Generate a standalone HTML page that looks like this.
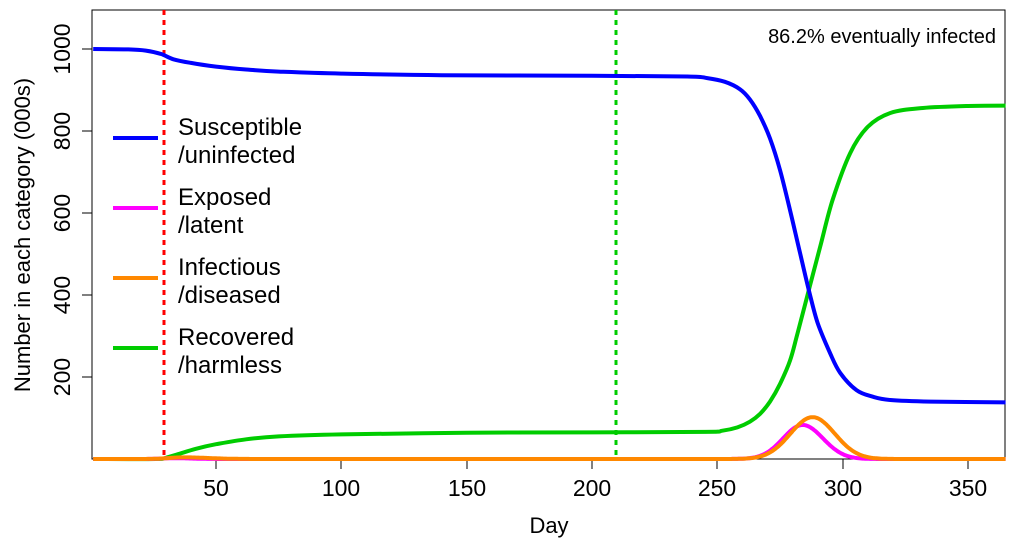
<!DOCTYPE html>
<html><head><meta charset="utf-8"><style>
body{margin:0;background:#fff}
svg{display:block;font-family:"Liberation Sans",sans-serif}
</style></head><body>
<svg id="s" width="1027" height="548" viewBox="0 0 1027 548">
<rect x="92" y="10" width="913" height="449" fill="none" stroke="#000" stroke-width="1"/>
<g stroke="#000">
<line x1="82" x2="92" y1="377" y2="377"/><line x1="82" x2="92" y1="295" y2="295"/>
<line x1="82" x2="92" y1="213" y2="213"/><line x1="82" x2="92" y1="131" y2="131"/>
<line x1="82" x2="92" y1="49" y2="49"/>
<line y1="459" y2="469" x1="216" x2="216"/><line y1="459" y2="469" x1="341" x2="341"/>
<line y1="459" y2="469" x1="467" x2="467"/><line y1="459" y2="469" x1="592" x2="592"/>
<line y1="459" y2="469" x1="717" x2="717"/><line y1="459" y2="469" x1="843" x2="843"/>
<line y1="459" y2="469" x1="968" x2="968"/>
</g>
<g font-size="23" text-anchor="middle">
<text x="216" y="496">50</text><text x="341" y="496">100</text><text x="467" y="496">150</text>
<text x="592" y="496">200</text><text x="717" y="496">250</text><text x="843" y="496">300</text>
<text x="968" y="496">350</text>
<text x="549" y="533" font-size="22">Day</text>
<g transform="translate(70,0)">
<text transform="translate(0,377) rotate(-90)">200</text>
<text transform="translate(0,295) rotate(-90)">400</text>
<text transform="translate(0,213) rotate(-90)">600</text>
<text transform="translate(0,131) rotate(-90)">800</text>
<text transform="translate(0,49) rotate(-90)">1000</text>
</g>
<text transform="translate(30,235) rotate(-90)" font-size="22">Number in each category (000s)</text>
</g>
<line x1="164" x2="164" y1="10" y2="459" stroke="#f00" stroke-width="3" stroke-dasharray="5,5"/>
<line x1="616" x2="616" y1="10" y2="459" stroke="#0c0" stroke-width="3" stroke-dasharray="5,5"/>
<text x="996" y="43" font-size="20" text-anchor="end">86.2% eventually infected</text>
<g stroke-width="4">
<line x1="113" x2="158" y1="138" y2="138" stroke="#00f"/>
<line x1="113" x2="158" y1="208" y2="208" stroke="#f0f"/>
<line x1="113" x2="158" y1="278" y2="278" stroke="#f80"/>
<line x1="113" x2="158" y1="348" y2="348" stroke="#0c0"/>
</g>
<g font-size="24">
<text x="178" y="135">Susceptible</text><text x="178" y="163">/uninfected</text>
<text x="178" y="205">Exposed</text><text x="178" y="233">/latent</text>
<text x="178" y="275">Infectious</text><text x="178" y="303">/diseased</text>
<text x="178" y="345">Recovered</text><text x="178" y="373">/harmless</text>
</g>
<g id="curves" fill="none" stroke-width="4" stroke-linejoin="round"></g>
</svg>
<script>
function X(d){return 216+(d-50)*2.5067}
function Y(v){return 459-v*0.41}
function cr(pts,color){var P=pts.map(function(p){return [X(p[0]),Y(p[1])]});
var s="M"+P[0][0]+","+P[0][1];
for(var i=0;i<P.length-1;i++){var p0=P[i-1]||P[i],p1=P[i],p2=P[i+1],p3=P[i+2]||p2;
var c1x=p1[0]+(p2[0]-p0[0])/6,c1y=p1[1]+(p2[1]-p0[1])/6,c2x=p2[0]-(p3[0]-p1[0])/6,c2y=p2[1]-(p3[1]-p1[1])/6;
s+="C"+c1x.toFixed(1)+","+c1y.toFixed(1)+" "+c2x.toFixed(1)+","+c2y.toFixed(1)+" "+p2[0].toFixed(1)+","+p2[1].toFixed(1)}
var p=document.createElementNS("http://www.w3.org/2000/svg","path");p.setAttribute("d",s);p.setAttribute("stroke",color);document.getElementById("curves").appendChild(p)}
function fn(f,color){var s="";for(var d=1;d<=365;d+=0.5){s+=(s?"L":"M")+X(d).toFixed(1)+","+Y(f(d)).toFixed(1)}
var p=document.createElementNS("http://www.w3.org/2000/svg","path");p.setAttribute("d",s);p.setAttribute("stroke",color);document.getElementById("curves").appendChild(p)}
var S=[[1,1000],[15,999],[22,996],[28,988],[33,975],[40,966],[50,957],[62,950],[75,945],[100,940],[140,936],[200,935],[238,933],[246,929],[253,920],[259,902],[263,877],[267,837],[271,782],[275,705],[279,607],[283,502],[286.5,412],[290,332],[295,258],[299,210],[305.5,168],[312,152],[319,144],[335,140],[365,138]];
var R=[[1,0],[26,0],[30,3],[35,12],[42,25],[50,36],[62,48],[75,55],[100,60],[150,64],[200,65],[245,66],[252,69],[258,77],[263,91],[267,110],[271,140],[275,183],[279,240],[282,307],[286.5,412],[291,517],[296,632],[303,746],[310,810],[319,844],[332,856],[350,861],[365,862]];
cr(R,"#0c0");
cr(S,"#00f");
function g(d,c,sl,sr){var s=d<c?sl:sr;return Math.exp(-Math.pow((d-c)/s,2))}
fn(function(d){return 83*g(d,284,11,11.5)+2*g(d,33,6,10)},"#f0f");
fn(function(d){return 102*g(d,288,12.5,12.5)+4*g(d,37,8,14)},"#f80");
</script>
</body></html>
